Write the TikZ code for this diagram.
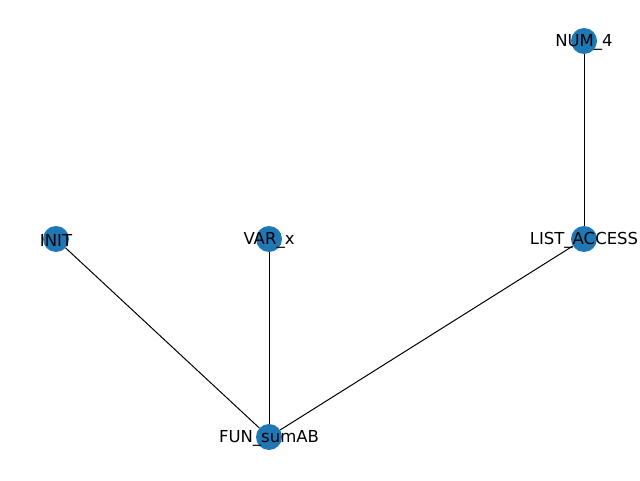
\documentclass[tikz,border=0pt]{standalone}
\usepackage{fontspec}
\setmainfont{DejaVu Sans}
\definecolor{nodeblue}{HTML}{1F77B4}
\begin{document}
\begin{tikzpicture}[x=1pt, y=1pt,
	vert/.style={circle, fill=nodeblue, draw=none, minimum size=26pt, inner sep=0pt},
	lbl/.style={font=\fontsize{16.5}{20}\selectfont, text=black, inner sep=0pt, yshift=-1.5pt},
	edge/.style={black, line width=1pt}]
	% 画布
	\useasboundingbox (0,0) rectangle (640,480);
	
	% 顶点
	\node[vert, label={[lbl]center:NUM\_4}] (num4) at (584,439) {};
	\node[vert, label={[lbl]center:INIT}] (init) at (56,241) {};
	\node[vert, label={[lbl]center:VAR\_x}] (varx) at (269,241) {};
	\node[vert, label={[lbl]center:LIST\_ACCESS}] (listacc) at (584,241) {};
	\node[vert, label={[lbl]center:FUN\_sumAB}] (funsum) at (269,43) {};
	
	% 边
	\draw[edge] (funsum) -- (init);
	\draw[edge] (funsum) -- (varx);
	\draw[edge] (funsum) -- (listacc);
	\draw[edge] (listacc) -- (num4);
\end{tikzpicture}
\end{document}
